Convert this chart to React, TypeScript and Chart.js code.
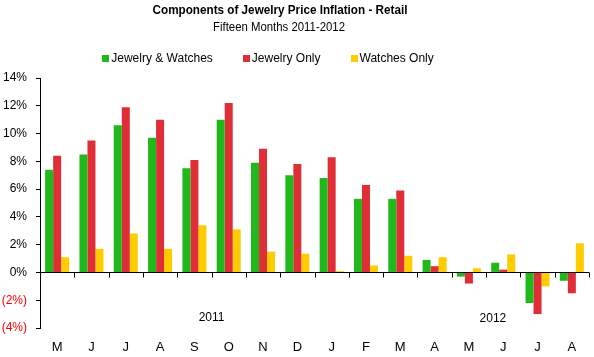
import React, { useEffect, useRef } from "react";
import { Chart, registerables } from "chart.js";

Chart.register(...registerables);

const months = ["M", "J", "J", "A", "S", "O", "N", "D", "J", "F", "M", "A", "M", "J", "J", "A"];
const jewelryWatches = [7.4, 8.5, 10.6, 9.7, 7.5, 11.0, 7.9, 7.0, 6.8, 5.3, 5.3, 0.9, -0.3, 0.7, -2.2, -0.6];
const jewelryOnly = [8.4, 9.5, 11.9, 11.0, 8.1, 12.2, 8.9, 7.8, 8.3, 6.3, 5.9, 0.45, -0.8, 0.2, -3.0, -1.5];
const watchesOnly = [1.1, 1.7, 2.8, 1.7, 3.4, 3.1, 1.5, 1.35, 0.1, 0.5, 1.2, 1.1, 0.3, 1.3, -1.0, 2.1];
const seriesNames = ["Jewelry & Watches", "Jewelry Only", "Watches Only"];
const seriesColors = ["#21B81B", "#E02E36", "#FFCC00"];
const titleText = "Components of Jewelry Price Inflation - Retail";
const subtitleText = "Fifteen Months 2011-2012";
const yearLabels = [
  { text: "2011", at: 4.5, value: -3.25 },
  { text: "2012", at: 12.7, value: -3.35 },
];

const FONT = "'Liberation Sans', Arial, sans-serif";

const headerPlugin = {
  id: "header",
  afterDraw(chart: any) {
    const { ctx } = chart;
    ctx.save();
    ctx.fillStyle = "#000";
    ctx.textBaseline = "alphabetic";
    ctx.textAlign = "center";
    ctx.save();
    ctx.font = `bold 13px ${FONT}`;
    ctx.translate(280, 14);
    ctx.scale(0.9, 1);
    ctx.fillText(titleText, 0, 0);
    ctx.restore();
    ctx.save();
    ctx.font = `13px ${FONT}`;
    ctx.translate(279, 31);
    ctx.scale(0.875, 1);
    ctx.fillText(subtitleText, 0, 0);
    ctx.restore();
    ctx.font = `12px ${FONT}`;
    ctx.textAlign = "left";
    ctx.textBaseline = "middle";
    const box = 7, gap = 2, spacing = 30;
    const widths = seriesNames.map((n) => ctx.measureText(n).width);
    const total = widths.reduce((a, w) => a + box + gap + w, 0) + spacing * (seriesNames.length - 1);
    let x = 268 - total / 2;
    const cy = 58.5;
    seriesNames.forEach((n, i) => {
      ctx.fillStyle = seriesColors[i];
      ctx.fillRect(Math.round(x), Math.round(cy - 3.5), box, box);
      ctx.fillStyle = "#000";
      ctx.fillText(n, x + box + gap, cy);
      x += box + gap + widths[i] + spacing;
    });
    ctx.restore();
  },
};

const zeroLinePlugin = {
  id: "zeroLine",
  afterDatasetsDraw(chart: any) {
    const { ctx, scales } = chart;
    const x = scales.x;
    const y = scales.y;
    const y0 = Math.round(y.getPixelForValue(0)) + 0.5;
    ctx.save();
    ctx.strokeStyle = "#000";
    ctx.lineWidth = 1;
    ctx.beginPath();
    ctx.moveTo(x.left, y0);
    ctx.lineTo(x.right, y0);
    const n = months.length;
    const step = (x.right - x.left) / n;
    for (let i = 1; i <= n; i++) {
      const px = Math.round(x.left + i * step) + 0.5;
      ctx.moveTo(px, y0);
      ctx.lineTo(px, y0 + 5);
    }
    ctx.stroke();
    ctx.fillStyle = "#000";
    ctx.font = `12px ${FONT}`;
    ctx.textAlign = "center";
    ctx.textBaseline = "middle";
    for (const yl of yearLabels) {
      const px = x.left + (yl.at + 0.5) * step;
      ctx.fillText(yl.text, px, y.getPixelForValue(yl.value));
    }
    ctx.restore();
  },
};

export default function App() {
  const ref = useRef<HTMLCanvasElement>(null);
  useEffect(() => {
    if (!ref.current) return;
    const chart = new Chart(ref.current, {
      type: "bar",
      data: {
        labels: months,
        datasets: [
          { label: seriesNames[0], data: jewelryWatches, backgroundColor: seriesColors[0] },
          { label: seriesNames[1], data: jewelryOnly, backgroundColor: seriesColors[1] },
          { label: seriesNames[2], data: watchesOnly, backgroundColor: seriesColors[2] },
        ],
      },
      options: {
        animation: false,
        responsive: false,
        maintainAspectRatio: false,
        datasets: { bar: { categoryPercentage: 0.7, barPercentage: 1.0 } },
        layout: { padding: { left: 0, right: 5, top: 78, bottom: 0 } },
        plugins: {
          title: { display: false },
          subtitle: { display: false },
          legend: { display: false },
          tooltip: { enabled: false },
        },
        scales: {
          x: {
            grid: { display: false },
            border: { display: false },
            ticks: { color: "#000", font: { family: FONT, size: 13 }, padding: 4, maxRotation: 0 },
            afterFit: (s: any) => { s.height = 29; },
          },
          y: {
            min: -4,
            max: 14,
            grid: { drawOnChartArea: false, color: "#000", tickLength: 4 },
            border: { display: true, color: "#000" },
            ticks: {
              stepSize: 2,
              padding: 9,
              font: { family: FONT, size: 12 },
              color: (c: any) => (c.tick && c.tick.value < 0 ? "#FF0000" : "#000"),
              callback: (v: any) => (v < 0 ? `(${-v}%)` : `${v}%`),
            },
            afterFit: (s: any) => { s.width = 40; },
          },
        },
      },
      plugins: [zeroLinePlugin, headerPlugin],
    });
    return () => chart.destroy();
  }, []);
  return (
    <div style={{ position: "absolute", left: 0, top: 0, width: 594, height: 357, background: "#fff" }}>
      <canvas ref={ref} width={594} height={357} />
    </div>
  );
}
